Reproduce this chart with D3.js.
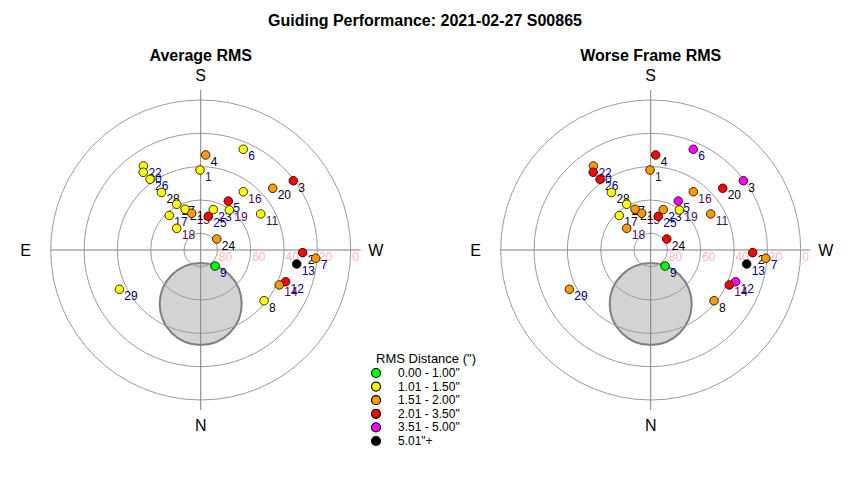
<!DOCTYPE html>
<html>
<head>
<meta charset="utf-8">
<script src="https://cdn.jsdelivr.net/npm/d3@7"></script>
<style>
  body { margin: 0; background: #fff; }
  svg { font-family: "Liberation Sans", Arial, sans-serif; }
</style>
</head>
<body>
<div id="chart"></div>
<script>
// frame numbers and their sky position (altitude / azimuth in degrees)
const frameIds = [1, 2, 3, 4, 5, 6, 7, 8, 9, 11, 12, 13, 14, 15, 16, 17, 18, 19, 20, 21, 22, 23, 24, 25, 26, 27, 28, 29, 30];
const altitude = [42.0, 28.8, 20.6, 32.9, 56.3, 24.4, 20.8, 41.3, 77.1, 48.0, 35.6, 31.8, 38.4, 67.3, 46.7, 62.0, 70.6, 60.5, 33.1, 63.8, 29.0, 64.6, 78.3, 69.3, 37.8, 59.0, 48.2, 35.8, 32.0];
const azimuth = [179.5, 271.5, 233.2, 183.0, 209.4, 202.9, 274.1, 308.7, 318.2, 239.0, 290.5, 278.3, 294.0, 166.2, 216.2, 137.7, 132.1, 215.6, 229.4, 159.0, 145.7, 197.3, 235.5, 192.7, 144.4, 152.3, 145.7, 64.2, 143.5];
// guiding rms in arcsec
const avgRms = [1.3, 2.4, 2.6, 1.7, 2.2, 1.4, 1.8, 1.4, 0.9, 1.3, 2.1, 5.6, 1.9, 1.6, 1.4, 1.2, 1.3, 1.3, 1.8, 1.4, 1.3, 1.4, 1.7, 2.3, 1.4, 1.2, 1.3, 1.5, 1.4];
const worstRms = [1.9, 3.1, 3.9, 2.5, 3.7, 4.2, 2.0, 1.8, 1.0, 1.9, 3.6, 6.2, 2.6, 1.8, 1.9, 1.5, 1.7, 1.5, 2.8, 1.7, 2.0, 1.9, 2.4, 2.7, 2.2, 1.5, 1.4, 1.8, 2.3];
// label group of each frame
const frameGroup = ['c', 'a', 'a', 'a', 'b', 'b', 'b', 'a', 'b', 'c', 'b', 'b', 'c', 'c', 'c', 'b', 'c', 'c', 'a', 'a', 'b', 'b', 'a', 'b', 'b', 'a', 'a', 'b', 'b'];

const ringAlts = [0, 20, 40, 60, 80];
const rmsBreaks = [1.005, 1.505, 2.005, 3.505, 5.005];
const rmsLabels = ['0.00 - 1.00"', '1.01 - 1.50"', '1.51 - 2.00"', '2.01 - 3.50"', '3.51 - 5.00"', '5.01"+'];
const compass = [['S', 180], ['W', 270], ['N', 0], ['E', 90]];
// shaded zone near the zenith
const zoneAlt = 57.6, zoneAz = 0, zoneRadius = 24.6;

const W = 850, H = 480;
const R = 150;
const cy = 250;
const panels = [
  { title: 'Average RMS', cx: 200.7, rms: avgRms },
  { title: 'Worse Frame RMS', cx: 650.7, rms: worstRms }
];

const colors = ['#00ff00', '#ffff00', '#ff9900', '#ff0000', '#ff00ff', '#000000'];
const colorScale = d3.scaleThreshold().domain(rmsBreaks).range(colors);
const labelColor = d3.scaleOrdinal().domain(['a', 'b', 'c']).range(['#000000', '#00007a', '#4a0a5a']);
const rScale = d3.scaleLinear().domain([90, 0]).range([0, R]);

const svg = d3.select('#chart').append('svg')
  .attr('width', W)
  .attr('height', H);

svg.append('text')
  .attr('x', 425)
  .attr('y', 20)
  .attr('text-anchor', 'middle')
  .attr('dominant-baseline', 'central')
  .style('font-size', '16px')
  .style('font-weight', 'bold')
  .text('Guiding Performance: 2021-02-27 S00865');

function project(alt, az) {
  const r = rScale(alt);
  const a = az * Math.PI / 180;
  return [-r * Math.sin(a), r * Math.cos(a)];
}

const frames = frameIds.map((id, i) => ({ id: id, alt: altitude[i], az: azimuth[i], group: frameGroup[i], i: i }));

panels.forEach(function (p) {
  const g = svg.append('g').attr('transform', 'translate(' + p.cx + ',' + cy + ')');

  g.append('text')
    .attr('x', 0)
    .attr('y', -195)
    .attr('text-anchor', 'middle')
    .attr('dominant-baseline', 'central')
    .style('font-size', '16px')
    .style('font-weight', 'bold')
    .text(p.title);

  const zc = project(zoneAlt, zoneAz);
  g.append('circle')
    .attr('cx', zc[0])
    .attr('cy', zc[1])
    .attr('r', rScale(90 - zoneRadius))
    .style('fill', '#d3d3d3')
    .style('stroke', '#808080')
    .style('stroke-width', 2);

  g.selectAll('.ring').data(ringAlts).enter().append('circle')
    .attr('class', 'ring')
    .attr('r', d => rScale(d))
    .style('fill', 'none')
    .style('stroke', '#9a9a9a')
    .style('stroke-width', 1);

  g.append('line')
    .attr('x1', -R).attr('x2', R + 10).attr('y1', 0).attr('y2', 0)
    .style('stroke', '#808080');
  g.append('line')
    .attr('x1', 0).attr('x2', 0).attr('y1', -R - 10).attr('y2', R + 10)
    .style('stroke', '#808080');

  g.selectAll('.ringlabel').data(ringAlts).enter().append('text')
    .attr('class', 'ringlabel')
    .attr('x', d => rScale(d) + 1.5)
    .attr('y', 11)
    .style('font-size', '12px')
    .style('fill', '#ffb6c1')
    .text(d => d);

  g.selectAll('.compass').data(compass).enter().append('text')
    .attr('class', 'compass')
    .attr('x', d => project(-15, d[1])[0])
    .attr('y', d => project(-15, d[1])[1])
    .attr('text-anchor', 'middle')
    .attr('dominant-baseline', 'central')
    .style('font-size', '16px')
    .text(d => d[0]);

  g.selectAll('.flabel').data(frames).enter().append('text')
    .attr('class', 'flabel')
    .attr('x', d => project(d.alt, d.az)[0] + 5)
    .attr('y', d => project(d.alt, d.az)[1] + 7)
    .attr('dominant-baseline', 'central')
    .style('font-size', '12px')
    .style('fill', d => labelColor(d.group))
    .text(d => d.id);

  g.selectAll('.pt').data(frames).enter().append('circle')
    .attr('class', 'pt')
    .attr('cx', d => project(d.alt, d.az)[0])
    .attr('cy', d => project(d.alt, d.az)[1])
    .attr('r', 4.3)
    .style('fill', d => colorScale(p.rms[d.i]))
    .style('stroke', '#000')
    .style('stroke-width', 0.8);
});

const legend = svg.append('g').attr('transform', 'translate(376,358)');
legend.append('text')
  .attr('x', 0)
  .attr('y', 0)
  .attr('dominant-baseline', 'central')
  .style('font-size', '13px')
  .text('RMS Distance (")');

const rows = legend.selectAll('.row').data(rmsLabels).enter().append('g')
  .attr('class', 'row')
  .attr('transform', (d, i) => 'translate(0,' + (15 + i * 13.6) + ')');
rows.append('circle')
  .attr('cx', 0)
  .attr('r', 4.5)
  .style('fill', (d, i) => colors[i])
  .style('stroke', '#000')
  .style('stroke-width', 1.2);
rows.append('text')
  .attr('x', 22)
  .attr('dominant-baseline', 'central')
  .style('font-size', '12px')
  .text(d => d);
</script>
</body>
</html>
